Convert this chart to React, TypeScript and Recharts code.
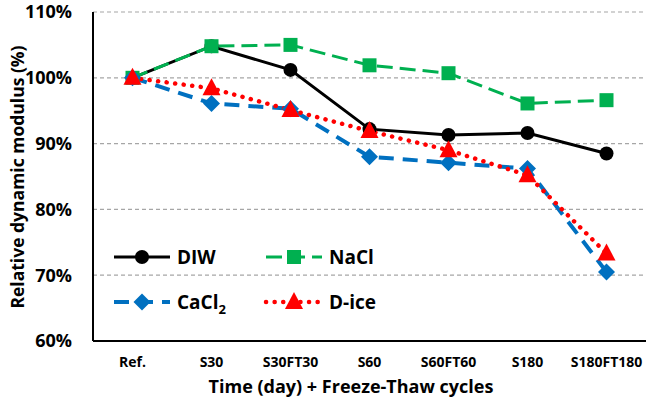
import React from "react"
import {
  LineChart,
  Line,
  XAxis,
  YAxis,
  CartesianGrid,
  Legend,
} from "recharts"

const categories = ["Ref.", "S30", "S30FT30", "S60", "S60FT60", "S180", "S180FT180"]
const diwValues = [100, 104.8, 101.2, 92.2, 91.3, 91.6, 88.5]
const naclValues = [100, 104.8, 105.0, 101.9, 100.7, 96.1, 96.6]
const cacl2Values = [100, 96.1, 95.3, 88.0, 87.1, 86.2, 70.5]
const diceValues = [100, 98.4, 95.1, 91.9, 89.0, 85.2, 73.3]
const yTicks = [60, 70, 80, 90, 100, 110]

const data = categories.map((c, i) => ({
  cat: c,
  DIW: diwValues[i],
  NaCl: naclValues[i],
  CaCl2: cacl2Values[i],
  Dice: diceValues[i],
}))

const FONT = "'Open Sans', sans-serif"
const BLACK = "#000000"
const GREEN = "#00B050"
const BLUE = "#0070C0"
const RED = "#FF0000"

type Shape = "circle" | "square" | "diamond" | "triangle"

function Marker({ shape, cx, cy, color }: { shape: Shape; cx: number; cy: number; color: string }) {
  if (shape === "circle") return <circle cx={cx} cy={cy} r={7} fill={color} />
  if (shape === "square") return <rect x={cx - 7} y={cy - 7} width={14} height={14} fill={color} />
  if (shape === "diamond")
    return <path d={`M${cx},${cy - 8.5} L${cx + 8.5},${cy} L${cx},${cy + 8.5} L${cx - 8.5},${cy} Z`} fill={color} />
  return <path d={`M${cx},${cy - 10} L${cx + 9},${cy + 7} L${cx - 9},${cy + 7} Z`} fill={color} />
}

function makeDot(shape: Shape, color: string) {
  return (p: any) => {
    if (p.cx == null || p.cy == null) return <g key={`e-${p.index}`} />
    return (
      <g key={`${shape}-${p.index}`}>
        <Marker shape={shape} cx={p.cx} cy={p.cy} color={color} />
      </g>
    )
  }
}

const series = [
  { key: "DIW", label: "DIW", color: BLACK, width: 3, dash: undefined as string | undefined, cap: "butt", shape: "circle" as Shape },
  { key: "NaCl", label: "NaCl", color: GREEN, width: 3, dash: "16 7", cap: "butt", shape: "square" as Shape },
  { key: "CaCl2", label: "CaCl2", color: BLUE, width: 4, dash: "15 9", cap: "butt", shape: "diamond" as Shape },
  { key: "Dice", label: "D-ice", color: RED, width: 4.5, dash: "0.1 8.5", cap: "round", shape: "triangle" as Shape },
]

function LegendBox() {
  const slots = [
    { x: 0, y: 22 },
    { x: 152, y: 22 },
    { x: 0, y: 67 },
    { x: 152, y: 67 },
  ]
  return (
    <svg width={280} height={90} style={{ overflow: "visible" }}>
      {series.map((s, i) => {
        const { x, y } = slots[i]
        return (
          <g key={s.key}>
            <line
              x1={x + 9}
              x2={x + 65}
              y1={y}
              y2={y}
              stroke={s.color}
              strokeWidth={s.width}
              strokeDasharray={s.dash}
              strokeLinecap={s.cap as any}
            />
            <Marker shape={s.shape} cx={x + 37} cy={y} color={s.color} />
            <text
              x={x + 72}
              y={y}
              dy="0.35em"
              fontFamily={FONT}
              fontWeight="bold"
              fontSize={19}
              fill="#000"
            >
              {s.key === "CaCl2" ? (
                <>
                  CaCl<tspan dy={5} fontSize={13}>2</tspan>
                </>
              ) : (
                s.label
              )}
            </text>
          </g>
        )
      })}
    </svg>
  )
}

export default function App() {
  return (
    <div style={{ position: "absolute", left: 0, top: 0, background: "#fff" }}>
      <LineChart
        width={656}
        height={399}
        data={data}
        margin={{ top: 12, right: 10, bottom: 0, left: 0 }}
        style={{ fontFamily: FONT }}
      >
        <CartesianGrid vertical={false} stroke="#A6A6A6" strokeWidth={1.2} strokeDasharray="4 3" />
        <XAxis
          dataKey="cat"
          height={58}
          padding={{ left: 39.5, right: 39.5 }}
          tickSize={0}
          tickMargin={16}
          axisLine={{ stroke: BLACK, strokeWidth: 2 }}
          tick={{ fill: "#000", fontSize: 14, fontWeight: "bold", fontFamily: FONT }}
          interval={0}
          label={(p: any) => (
            <text
              x={351}
              y={387}
              dy="0.35em"
              textAnchor="middle"
              fontFamily={FONT}
              fontWeight="bold"
              fontSize={18}
              fill="#000"
            >
              Time (day) + Freeze-Thaw cycles
            </text>
          )}
        />
        <XAxis
          xAxisId="top"
          dataKey="cat"
          orientation="top"
          height={0}
          padding={{ left: 39.5, right: 39.5 }}
          tick={false}
          tickLine={false}
          axisLine={{ stroke: BLACK, strokeWidth: 2 }}
        />
        <YAxis
          width={93}
          domain={[60, 110]}
          ticks={yTicks}
          tickSize={0}
          tickMargin={21}
          allowDataOverflow
          axisLine={{ stroke: BLACK, strokeWidth: 2 }}
          tick={{ fill: "#000", fontSize: 18, fontWeight: "bold", fontFamily: FONT }}
          tickFormatter={(v) => `${v}%`}
          label={(p: any) => (
            <text
              x={18}
              y={177}
              dy="0.35em"
              textAnchor="middle"
              transform="rotate(-90 18 177)"
              fontFamily={FONT}
              fontWeight="bold"
              fontSize={17.5}
              fill="#000"
            >
              Relative dynamic modulus (%)
            </text>
          )}
        />
        <YAxis
          yAxisId="right"
          orientation="right"
          width={0}
          domain={[60, 110]}
          tick={false}
          tickLine={false}
          axisLine={{ stroke: BLACK, strokeWidth: 2 }}
        />
        <Legend
          layout="horizontal"
          verticalAlign="middle"
          align="center"
          content={() => <LegendBox />}
          wrapperStyle={{ position: "absolute", left: 105, top: 235, width: 280, height: 90 }}
        />
        {series.map((s) => (
          <Line
            key={s.key}
            dataKey={s.key}
            name={s.label}
            type="linear"
            stroke={s.color}
            strokeWidth={s.width}
            strokeDasharray={s.dash}
            strokeLinecap={s.cap as any}
            dot={makeDot(s.shape, s.color)}
            activeDot={false}
            isAnimationActive={false}
          />
        ))}
      </LineChart>
    </div>
  )
}
